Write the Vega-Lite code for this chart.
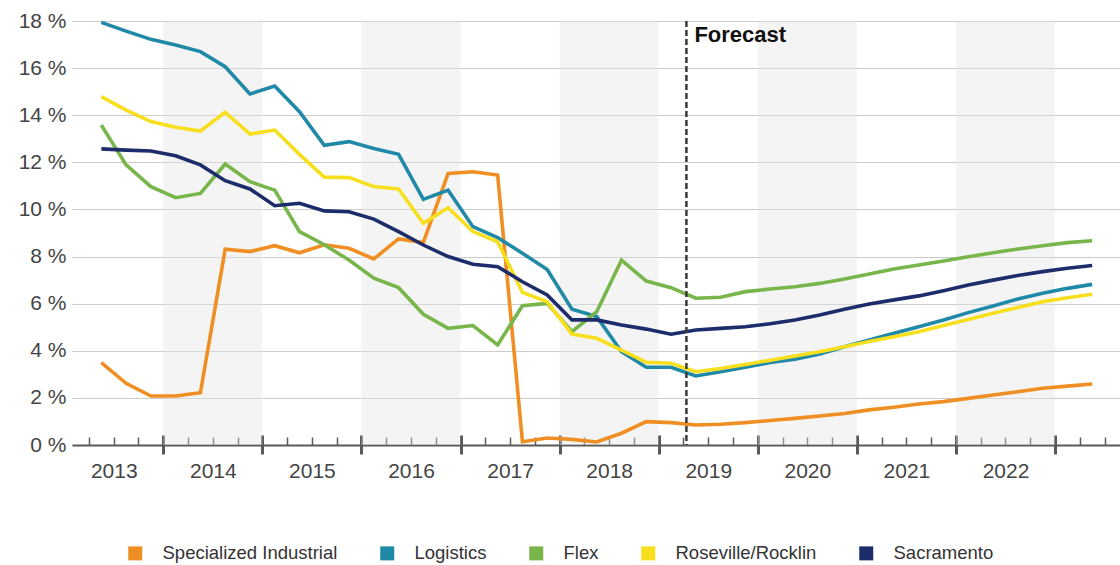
{
  "$schema": "https://vega.github.io/schema/vega-lite/v6.json",
  "width": 1048,
  "height": 424,
  "autosize": "none",
  "padding": {"left": 72, "top": 21, "right": 0, "bottom": 120},
  "background": "white",
  "config": {"view": {"stroke": null}, "font": "Liberation Sans"},
  "datasets": {
    "bands": [
      {"start": 2014, "end": 2015},
      {"start": 2016, "end": 2017},
      {"start": 2018, "end": 2019},
      {"start": 2020, "end": 2021},
      {"start": 2022, "end": 2023}
    ],
    "forecast": [{"t": 2019.28, "label": "Forecast"}],
    "rates": [
      {"t": 2013.375, "Specialized Industrial": 3.5, "Logistics": 17.94, "Flex": 13.58, "Roseville/Rocklin": 14.79, "Sacramento": 12.57},
      {"t": 2013.625, "Specialized Industrial": 2.62, "Logistics": 17.57, "Flex": 11.89, "Roseville/Rocklin": 14.22, "Sacramento": 12.52},
      {"t": 2013.875, "Specialized Industrial": 2.08, "Logistics": 17.22, "Flex": 10.97, "Roseville/Rocklin": 13.73, "Sacramento": 12.48},
      {"t": 2014.125, "Specialized Industrial": 2.08, "Logistics": 16.98, "Flex": 10.5, "Roseville/Rocklin": 13.49, "Sacramento": 12.28},
      {"t": 2014.375, "Specialized Industrial": 2.22, "Logistics": 16.7, "Flex": 10.68, "Roseville/Rocklin": 13.33, "Sacramento": 11.89},
      {"t": 2014.625, "Specialized Industrial": 8.31, "Logistics": 16.06, "Flex": 11.93, "Roseville/Rocklin": 14.12, "Sacramento": 11.22},
      {"t": 2014.875, "Specialized Industrial": 8.21, "Logistics": 14.9, "Flex": 11.18, "Roseville/Rocklin": 13.2, "Sacramento": 10.87},
      {"t": 2015.125, "Specialized Industrial": 8.46, "Logistics": 15.24, "Flex": 10.82, "Roseville/Rocklin": 13.37, "Sacramento": 10.16},
      {"t": 2015.375, "Specialized Industrial": 8.16, "Logistics": 14.15, "Flex": 9.06, "Roseville/Rocklin": 12.34, "Sacramento": 10.26},
      {"t": 2015.625, "Specialized Industrial": 8.5, "Logistics": 12.72, "Flex": 8.5, "Roseville/Rocklin": 11.37, "Sacramento": 9.94},
      {"t": 2015.875, "Specialized Industrial": 8.35, "Logistics": 12.88, "Flex": 7.85, "Roseville/Rocklin": 11.35, "Sacramento": 9.9},
      {"t": 2016.125, "Specialized Industrial": 7.9, "Logistics": 12.59, "Flex": 7.08, "Roseville/Rocklin": 10.97, "Sacramento": 9.59},
      {"t": 2016.375, "Specialized Industrial": 8.75, "Logistics": 12.34, "Flex": 6.68, "Roseville/Rocklin": 10.87, "Sacramento": 9.06},
      {"t": 2016.625, "Specialized Industrial": 8.6, "Logistics": 10.43, "Flex": 5.55, "Roseville/Rocklin": 9.41, "Sacramento": 8.49},
      {"t": 2016.875, "Specialized Industrial": 11.53, "Logistics": 10.82, "Flex": 4.95, "Roseville/Rocklin": 10.07, "Sacramento": 8.0},
      {"t": 2017.125, "Specialized Industrial": 11.6, "Logistics": 9.27, "Flex": 5.07, "Roseville/Rocklin": 9.06, "Sacramento": 7.67},
      {"t": 2017.375, "Specialized Industrial": 11.46, "Logistics": 8.8, "Flex": 4.25, "Roseville/Rocklin": 8.63, "Sacramento": 7.57},
      {"t": 2017.625, "Specialized Industrial": 0.14, "Logistics": 8.14, "Flex": 5.91, "Roseville/Rocklin": 6.48, "Sacramento": 6.93},
      {"t": 2017.875, "Specialized Industrial": 0.3, "Logistics": 7.45, "Flex": 6.01, "Roseville/Rocklin": 6.08, "Sacramento": 6.37},
      {"t": 2018.125, "Specialized Industrial": 0.24, "Logistics": 5.76, "Flex": 4.81, "Roseville/Rocklin": 4.71, "Sacramento": 5.31},
      {"t": 2018.375, "Specialized Industrial": 0.13, "Logistics": 5.45, "Flex": 5.66, "Roseville/Rocklin": 4.53, "Sacramento": 5.31},
      {"t": 2018.625, "Specialized Industrial": 0.5, "Logistics": 3.96, "Flex": 7.85, "Roseville/Rocklin": 4.03, "Sacramento": 5.09},
      {"t": 2018.875, "Specialized Industrial": 0.99, "Logistics": 3.3, "Flex": 6.96, "Roseville/Rocklin": 3.51, "Sacramento": 4.92},
      {"t": 2019.125, "Specialized Industrial": 0.95, "Logistics": 3.3, "Flex": 6.68, "Roseville/Rocklin": 3.47, "Sacramento": 4.7},
      {"t": 2019.375, "Specialized Industrial": 0.85, "Logistics": 2.93, "Flex": 6.23, "Roseville/Rocklin": 3.11, "Sacramento": 4.88},
      {"t": 2019.625, "Specialized Industrial": 0.88, "Logistics": 3.11, "Flex": 6.27, "Roseville/Rocklin": 3.25, "Sacramento": 4.95},
      {"t": 2019.875, "Specialized Industrial": 0.95, "Logistics": 3.3, "Flex": 6.51, "Roseville/Rocklin": 3.42, "Sacramento": 5.02},
      {"t": 2020.125, "Specialized Industrial": 1.04, "Logistics": 3.5, "Flex": 6.62, "Roseville/Rocklin": 3.6, "Sacramento": 5.15},
      {"t": 2020.375, "Specialized Industrial": 1.13, "Logistics": 3.64, "Flex": 6.72, "Roseville/Rocklin": 3.78, "Sacramento": 5.31},
      {"t": 2020.625, "Specialized Industrial": 1.23, "Logistics": 3.86, "Flex": 6.86, "Roseville/Rocklin": 3.96, "Sacramento": 5.52},
      {"t": 2020.875, "Specialized Industrial": 1.34, "Logistics": 4.17, "Flex": 7.05, "Roseville/Rocklin": 4.17, "Sacramento": 5.76},
      {"t": 2021.125, "Specialized Industrial": 1.49, "Logistics": 4.46, "Flex": 7.26, "Roseville/Rocklin": 4.39, "Sacramento": 5.99},
      {"t": 2021.375, "Specialized Industrial": 1.6, "Logistics": 4.74, "Flex": 7.47, "Roseville/Rocklin": 4.6, "Sacramento": 6.16},
      {"t": 2021.625, "Specialized Industrial": 1.74, "Logistics": 5.02, "Flex": 7.64, "Roseville/Rocklin": 4.81, "Sacramento": 6.33},
      {"t": 2021.875, "Specialized Industrial": 1.84, "Logistics": 5.31, "Flex": 7.81, "Roseville/Rocklin": 5.07, "Sacramento": 6.55},
      {"t": 2022.125, "Specialized Industrial": 1.98, "Logistics": 5.62, "Flex": 7.99, "Roseville/Rocklin": 5.33, "Sacramento": 6.79},
      {"t": 2022.375, "Specialized Industrial": 2.12, "Logistics": 5.9, "Flex": 8.16, "Roseville/Rocklin": 5.59, "Sacramento": 7.0},
      {"t": 2022.625, "Specialized Industrial": 2.26, "Logistics": 6.2, "Flex": 8.32, "Roseville/Rocklin": 5.84, "Sacramento": 7.2},
      {"t": 2022.875, "Specialized Industrial": 2.41, "Logistics": 6.44, "Flex": 8.46, "Roseville/Rocklin": 6.08, "Sacramento": 7.36},
      {"t": 2023.125, "Specialized Industrial": 2.5, "Logistics": 6.65, "Flex": 8.59, "Roseville/Rocklin": 6.25, "Sacramento": 7.5},
      {"t": 2023.375, "Specialized Industrial": 2.59, "Logistics": 6.82, "Flex": 8.67, "Roseville/Rocklin": 6.4, "Sacramento": 7.62}
    ]
  },
  "layer": [
    {
      "data": {"name": "bands"},
      "mark": {"type": "rect", "fill": "#e4e4e4", "opacity": 0.4},
      "encoding": {
        "x": {
          "field": "start", "type": "quantitative",
          "scale": {"domain": [2013.079, 2023.656], "nice": false, "zero": false},
          "axis": {
            "orient": "bottom",
            "title": null,
            "values": [2013.25, 2013.5, 2013.75, 2014, 2014.25, 2014.5, 2014.75, 2015, 2015.25, 2015.5, 2015.75, 2016, 2016.25, 2016.5, 2016.75, 2017, 2017.25, 2017.5, 2017.75, 2018, 2018.25, 2018.5, 2018.75, 2019, 2019.25, 2019.5, 2019.75, 2020, 2020.25, 2020.5, 2020.75, 2021, 2021.25, 2021.5, 2021.75, 2022, 2022.25, 2022.5, 2022.75, 2023, 2023.25, 2023.5],
            "labels": false,
            "grid": false,
            "domain": true,
            "domainColor": "#595959",
            "domainWidth": 2,
            "tickSize": -8,
            "tickColor": "#595959",
            "tickWidth": 1.5
          }
        },
        "x2": {"field": "end"}
      }
    },
    {
      "data": {"name": "rates"},
      "transform": [
        {"fold": ["Specialized Industrial", "Logistics", "Flex", "Roseville/Rocklin", "Sacramento"], "as": ["series", "value"]}
      ],
      "mark": {"type": "line", "strokeWidth": 3.6},
      "encoding": {
        "x": {
          "field": "t", "type": "quantitative",
          "scale": {"domain": [2013.079, 2023.656], "nice": false, "zero": false},
          "axis": {
            "orient": "bottom",
            "title": null,
            "values": [2014, 2015, 2016, 2017, 2018, 2019, 2020, 2021, 2022, 2023],
            "labels": false,
            "grid": false,
            "domain": false,
            "tickSize": -10,
            "tickColor": "#595959",
            "tickWidth": 3
          }
        },
        "y": {
          "field": "value", "type": "quantitative",
          "scale": {"domain": [0, 18], "nice": false},
          "axis": {
            "title": null,
            "values": [0, 2, 4, 6, 8, 10, 12, 14, 16, 18],
            "labelExpr": "datum.value + ' %'",
            "domain": false,
            "ticks": false,
            "grid": true,
            "gridColor": "#999999",
            "gridDash": [1, 1],
            "gridWidth": 1,
            "labelFontSize": 21,
            "labelColor": "#444444",
            "labelPadding": 6
          }
        },
        "color": {
          "field": "series", "type": "nominal",
          "scale": {
            "domain": ["Specialized Industrial", "Logistics", "Flex", "Roseville/Rocklin", "Sacramento"],
            "range": ["#ef8f23", "#2089a8", "#78b54a", "#f7df1e", "#1d2c6b"]
          },
          "legend": {
            "title": null,
            "orient": "none",
            "direction": "horizontal",
            "legendX": 54,
            "legendY": 523,
            "symbolType": "square",
            "symbolSize": 196,
            "symbolStrokeWidth": 0,
            "labelFontSize": 18.5,
            "labelColor": "#333333",
            "labelLimit": 0,
            "labelOffset": 18,
            "columnPadding": 40,
            "encode": {
              "symbols": {"update": {"fill": {"scale": "color", "field": "value"}, "stroke": {"value": "transparent"}, "opacity": {"value": 1}}}
            }
          }
        }
      }
    },
    {
      "data": {"name": "forecast"},
      "mark": {"type": "rule", "color": "#3a3a3a", "strokeWidth": 2.5, "strokeDash": [6, 3]},
      "encoding": {
        "x": {
          "field": "t", "type": "quantitative",
          "scale": {"domain": [2013.079, 2023.656], "nice": false, "zero": false},
          "axis": {
            "orient": "bottom",
            "title": null,
            "values": [2014, 2015, 2016, 2017, 2018, 2019, 2020, 2021, 2022, 2023],
            "labelExpr": "format(datum.value - 1, 'd')",
            "labelOffset": -49.5,
            "labelFlush": false,
            "labelOverlap": false,
            "labelFontSize": 21,
            "labelColor": "#444444",
            "labelPadding": 6,
            "grid": false,
            "domain": false,
            "tickSize": 9,
            "tickColor": "#595959",
            "tickWidth": 3
          }
        }
      }
    },
    {
      "data": {"name": "forecast"},
      "mark": {"type": "text", "align": "left", "baseline": "alphabetic", "dx": 8, "dy": 21, "fontSize": 22, "fontWeight": "bold", "color": "#111111"},
      "encoding": {
        "x": {"field": "t", "type": "quantitative", "scale": {"domain": [2013.079, 2023.656], "nice": false, "zero": false}, "axis": null},
        "y": {"datum": 18, "type": "quantitative"},
        "text": {"field": "label"}
      }
    }
  ],
  "resolve": {"axis": {"x": "independent"}}
}
